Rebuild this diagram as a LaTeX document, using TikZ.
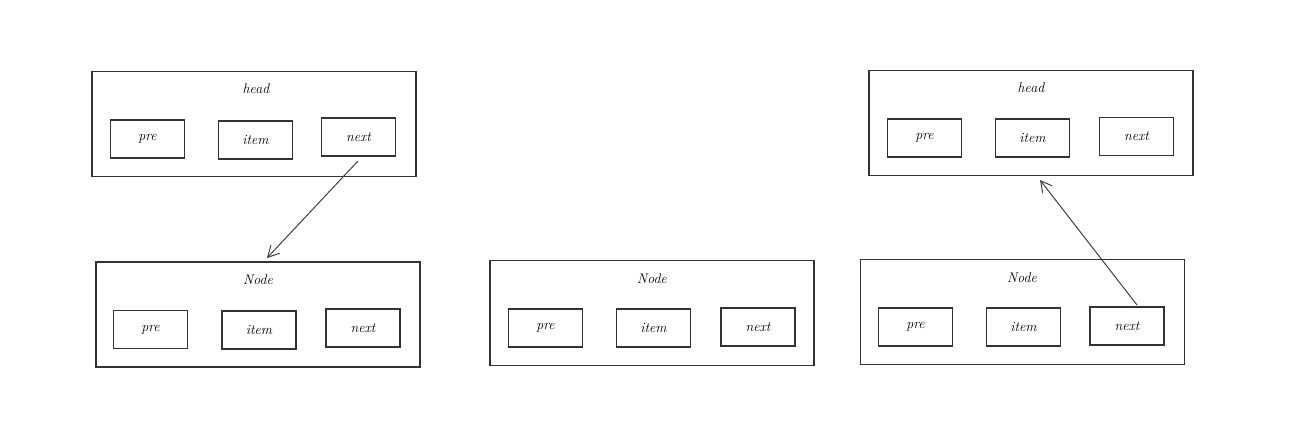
\documentclass[tikz,border=0pt]{standalone}
\usetikzlibrary{arrows.meta}
\begin{document}
\begin{tikzpicture}[x=1pt,y=-1pt,
  outer/.style={draw=black!80,line width=1.4pt,minimum width=324pt,minimum height=105pt,inner sep=0pt},
  cell/.style={draw=black!80,line width=1.4pt,minimum width=74pt,minimum height=38pt,inner sep=0pt,font=\itshape\fontsize{14}{16}\selectfont},
  title/.style={font=\itshape\fontsize{14}{16}\selectfont},
  link/.style={draw=black!75,line width=1pt,-{Straight Barb[length=11pt,width=12pt]}}]
\useasboundingbox[fill=white] (0,0) rectangle (1297,427);
% left head
\node[outer] (lh) at (254,124) {};
\node[title] (lht) at (256,89) {head};
\node[cell] (lhp) at (147.5,139) {pre};
\node[cell] (lhi) at (255.5,140) {item};
\node[cell] (lhn) at (358.5,137) {next};
% left node
\node[outer] (ln) at (258,314.5) {};
\node[title] (lnt) at (258,280) {Node};
\node[cell] (lnp) at (150.5,329.5) {pre};
\node[cell] (lni) at (259,330) {item};
\node[cell] (lnn) at (363,328) {next};
% middle node
\node[outer] (mn) at (652,313) {};
\node[title] (mnt) at (652,279) {Node};
\node[cell] (mnp) at (545.5,328) {pre};
\node[cell] (mni) at (653.5,328) {item};
\node[cell] (mnn) at (758,327) {next};
% right head
\node[outer] (rh) at (1031,123) {};
\node[title] (rht) at (1031,88) {head};
\node[cell] (rhp) at (924.5,138) {pre};
\node[cell] (rhi) at (1032.5,138) {item};
\node[cell] (rhn) at (1136.5,136.5) {next};
% right node
\node[outer] (rn) at (1022.5,312) {};
\node[title] (rnt) at (1022,278) {Node};
\node[cell] (rnp) at (915.5,327) {pre};
\node[cell] (rni) at (1023.5,327) {item};
\node[cell] (rnn) at (1127,326) {next};
% connectors
\coordinate (a1s) at (358,161);
\coordinate (a1e) at (267,258);
\coordinate (a2s) at (1137,305);
\coordinate (a2e) at (1040,180);
\draw[link] (a1s) -- (a1e);
\draw[link] (a2s) -- (a2e);
\end{tikzpicture}
\end{document}
